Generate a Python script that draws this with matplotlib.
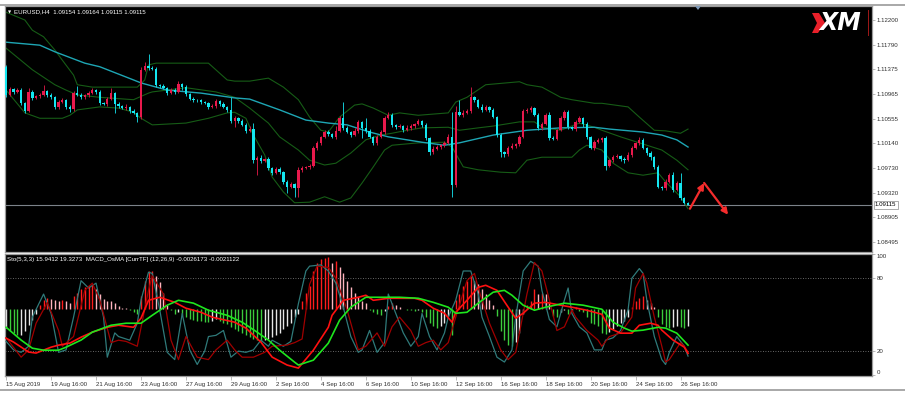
import matplotlib
matplotlib.use("Agg")
import matplotlib.pyplot as plt
import numpy as np
from matplotlib.patches import Polygon
from matplotlib.lines import Line2D
from matplotlib.transforms import Affine2D, blended_transform_factory

# ---- EURUSD H4 candles (bar index 0 = first visible bar) ----
first_open = 1.1142
closes = [
    1.1095, 1.1105, 1.1100, 1.1103, 1.1081, 1.1068, 1.1100, 1.1090, 1.1093, 1.1095,
    1.1102, 1.1095, 1.1091, 1.1075, 1.1083, 1.1087, 1.1075, 1.1071, 1.1098, 1.1095,
    1.1091, 1.1095, 1.1098, 1.1103, 1.1100, 1.1081, 1.1080, 1.1088, 1.1098, 1.1080,
    1.1076, 1.1073, 1.1075, 1.1068, 1.1065, 1.1058, 1.1137, 1.1143, 1.1140, 1.1138,
    1.1112, 1.1110, 1.1107, 1.1098, 1.1103, 1.1100, 1.1113, 1.1108, 1.1097, 1.1088,
    1.1087, 1.1086, 1.1083, 1.1081, 1.1075, 1.1076, 1.1085, 1.1080, 1.1075, 1.1070,
    1.1051, 1.1056, 1.1051, 1.1045, 1.1035, 1.1038, 1.0986, 1.0990, 1.0985, 1.0988,
    1.0973, 1.0965, 1.0971, 1.0966, 1.0950, 1.0941, 1.0946, 1.0940, 1.0970, 1.0973,
    1.0975, 1.0976, 1.1006, 1.1015, 1.1025, 1.1033, 1.1030, 1.1025, 1.1035, 1.1056,
    1.1040, 1.1033, 1.1028, 1.1035, 1.1050, 1.1040, 1.1035, 1.1025, 1.1015, 1.1025,
    1.1033, 1.1056, 1.1061, 1.1045, 1.1041, 1.1043, 1.1036, 1.1040, 1.1043, 1.1046,
    1.1051, 1.1045, 1.1023, 1.1000, 1.1005, 1.1008, 1.1011, 1.1015, 1.1025, 1.0945,
    1.1066, 1.1061, 1.1065, 1.1068, 1.1091, 1.1087, 1.1075, 1.1070, 1.1075, 1.1070,
    1.1058, 1.1028, 1.1000, 1.0996, 1.1006, 1.1010, 1.1013, 1.1025, 1.1068, 1.1070,
    1.1073, 1.1061, 1.1040, 1.1046, 1.1061, 1.1023, 1.1022, 1.1036, 1.1056, 1.1066,
    1.1041, 1.1038, 1.1050, 1.1056, 1.1046, 1.1025, 1.1006, 1.1016, 1.1020, 1.1023,
    1.0976, 1.0986, 1.0991, 1.0993, 1.0988, 1.0986, 1.0995, 1.1006, 1.1015, 1.1020,
    1.1006, 1.0998, 1.0991, 1.0975, 1.0941, 1.0940, 1.0950, 1.0961, 1.0936, 1.0948,
    1.0923, 1.09154, 1.09115,
]
# wick lengths above / below the body, in pips
wick_up = [
    3, 4, 2, 3, 3, 2, 7, 3, 2, 3,
    10, 2, 3, 2, 4, 3, 2, 3, 3, 12,
    3, 2, 4, 3, 2, 3, 2, 4, 8, 2,
    3, 2, 4, 2, 3, 2, 4, 7, 20, 3,
    4, 2, 3, 2, 4, 3, 5, 2, 3, 2,
    3, 2, 3, 2, 3, 4, 3, 2, 3, 2,
    22, 3, 2, 4, 3, 5, 10, 3, 4, 2,
    3, 2, 4, 3, 2, 3, 3, 2, 4, 3,
    2, 3, 4, 3, 2, 4, 3, 2, 8, 4,
    27, 3, 2, 4, 3, 2, 17, 3, 2, 3,
    3, 4, 5, 3, 2, 3, 2, 4, 3, 2,
    3, 2, 3, 2, 4, 3, 2, 3, 4, 42,
    10, 20, 4, 3, 17, 3, 2, 4, 3, 2,
    3, 2, 3, 2, 3, 4, 2, 3, 4, 3,
    4, 2, 3, 3, 4, 5, 3, 2, 3, 4,
    3, 2, 3, 4, 2, 3, 2, 4, 3, 2,
    3, 2, 4, 3, 2, 3, 4, 3, 2, 4,
    3, 2, 3, 2, 3, 2, 4, 3, 5, 3,
    17, 2, 1,
]
wick_dn = [
    3, 2, 3, 2, 3, 3, 2, 3, 2, 3,
    2, 3, 2, 4, 3, 2, 3, 5, 3, 2,
    3, 2, 3, 2, 4, 3, 2, 3, 2, 15,
    3, 2, 4, 3, 2, 8, 3, 2, 3, 2,
    3, 4, 2, 3, 2, 3, 2, 4, 3, 2,
    3, 2, 3, 2, 4, 2, 3, 3, 2, 4,
    3, 10, 3, 2, 3, 2, 4, 25, 3, 2,
    3, 4, 2, 3, 3, 10, 2, 15, 15, 3,
    2, 3, 2, 3, 4, 2, 3, 2, 3, 2,
    3, 2, 3, 2, 4, 17, 3, 2, 4, 3,
    2, 3, 2, 4, 3, 2, 3, 2, 3, 4,
    2, 3, 3, 5, 3, 2, 4, 3, 2, 20,
    3, 2, 3, 2, 3, 4, 2, 3, 2, 3,
    2, 3, 8, 5, 3, 2, 3, 4, 2, 3,
    3, 2, 4, 3, 2, 3, 2, 3, 2, 3,
    3, 2, 3, 2, 4, 3, 2, 3, 2, 4,
    7, 2, 3, 2, 3, 4, 2, 3, 2, 3,
    2, 3, 4, 3, 2, 4, 3, 2, 3, 2,
    3, 2, 0,
]

# Bollinger bands (20) and slow MA at these bars
bu_idx = [0, 5, 7, 10, 13, 15, 18, 19, 23, 35, 37, 38, 40, 54, 59, 61, 65, 70, 74, 78, 81, 84, 86, 89, 93,
          95, 98, 102, 105, 110, 118, 120, 123, 128, 137, 139, 143, 148, 151, 157, 159, 166, 169, 173, 176, 180, 182]
bu_val = [1.1233, 1.1220, 1.1203, 1.1192, 1.1170, 1.1153, 1.1128, 1.1112, 1.1108, 1.1108, 1.1120, 1.1145,
          1.1148, 1.1148, 1.1120, 1.1118, 1.1118, 1.1123, 1.1108, 1.1087, 1.1058, 1.1036, 1.1033, 1.1058,
          1.1078, 1.1080, 1.1073, 1.1061, 1.1065, 1.1061, 1.1065, 1.1083, 1.1091, 1.1112, 1.1117, 1.1112,
          1.1108, 1.1091, 1.1087, 1.1081, 1.1081, 1.1075, 1.1058, 1.1036, 1.1035, 1.1031, 1.1038]
bm_idx = [0, 7, 13, 16, 19, 25, 34, 38, 39, 48, 56, 61, 65, 70, 73, 78, 81, 85, 88, 92, 96, 100, 103, 107,
          111, 118, 121, 126, 130, 137, 141, 143, 148, 153, 157, 159, 164, 169, 175, 179, 182]
bm_val = [1.1173, 1.1137, 1.1112, 1.1103, 1.1095, 1.1091, 1.1087, 1.1098, 1.1100, 1.1107, 1.1100, 1.1091,
          1.1073, 1.1048, 1.1025, 1.1003, 1.0986, 1.0978, 1.0981, 1.0998, 1.1020, 1.1028, 1.1031, 1.1036,
          1.1040, 1.1041, 1.1036, 1.1040, 1.1043, 1.1050, 1.1050, 1.1041, 1.1036, 1.1048, 1.1041, 1.1036,
          1.1025, 1.1015, 1.1003, 1.0986, 1.0970]
bl_idx = [0, 5, 9, 15, 17, 19, 25, 30, 34, 36, 39, 48, 54, 59, 61, 64, 66, 69, 71, 74, 77, 81, 85, 89, 92,
          95, 98, 101, 103, 110, 117, 119, 122, 126, 132, 136, 139, 143, 151, 153, 155, 159, 162, 166, 170,
          174, 176, 180, 182]
bl_val = [1.1103, 1.1065, 1.1056, 1.1056, 1.1061, 1.1070, 1.1075, 1.1073, 1.1066, 1.1056, 1.1045, 1.1048,
          1.1056, 1.1065, 1.1066, 1.1056, 1.1028, 1.0995, 1.0958, 1.0933, 1.0915, 1.0916, 1.0925, 1.0916,
          1.0923, 1.0948, 1.0975, 1.1003, 1.1011, 1.1015, 1.1016, 1.1008, 1.0975, 1.0970, 1.0966, 1.0965,
          1.0986, 1.0991, 1.0991, 1.1003, 1.1011, 1.1003, 1.0981, 1.0965, 1.0961, 1.0965, 1.0950, 1.0925, 1.0905]
ma_idx = [0, 9, 13, 21, 25, 34, 36, 43, 52, 61, 65, 73, 80, 86, 91, 97, 102, 111, 117, 121, 130, 139, 148,
          157, 161, 170, 175, 179, 182]
ma_val = [1.1183, 1.1178, 1.1167, 1.1148, 1.1142, 1.1120, 1.1115, 1.1103, 1.1098, 1.1090, 1.1088, 1.1070,
          1.1053, 1.1048, 1.1045, 1.1033, 1.1025, 1.1016, 1.1011, 1.1015, 1.1028, 1.1036, 1.1040, 1.1041,
          1.1038, 1.1033, 1.1028, 1.1020, 1.1008]

# hand drawn forecast arrows (bar, price)
arrow_idx = [182.5, 186.3, 192.7]
arrow_px = [1.0905, 1.0948, 1.0895]

price_ticks = [1.12200, 1.11790, 1.11375, 1.10965, 1.10555, 1.10140, 1.09730, 1.09320, 1.08905, 1.08495]
last_price = 1.09115

# ---- lower window: MACD_OsMA (x1e-4) and Stochastic(5,3,3) ----
osma = [
    -5.5, -6.6, -7.1, -7.6, -7.6, -6.6, -4.7, -3.1, -1.3, 1.3,
    2.8, 3.3, 3.1, 2.6, 2.3, 2.8, 2.3, 1.8, 3.8, 4.9,
    5.9, 6.7, 7.2, 7.6, 5.9, 4.4, 3.0, 2.5, 2.3, 1.8,
    1.0, 0.5, 0.3, -0.3, -0.8, -1.3, 3.8, 8.4, 11.2, 11.4,
    10.0, 8.0, 4.9, 1.3, -0.3, -1.3, -0.8, -1.6, -2.4, -2.9,
    -3.2, -3.4, -3.5, -3.7, -3.8, -3.4, -2.9, -3.4, -4.0, -4.5,
    -5.3, -6.0, -6.6, -7.1, -7.6, -8.1, -8.7, -9.2, -9.5, -9.2,
    -8.8, -8.1, -7.6, -7.1, -6.0, -5.0, -4.0, -2.4, -1.3, 2.3,
    4.9, 7.0, 11.2, 13.8, 14.8, 15.3, 15.5, 13.8, 14.4, 12.5,
    10.6, 8.4, 6.5, 4.9, 3.7, 2.3, 1.8, -0.3, -0.8, -1.3,
    -1.6, -0.6, 0.9, 1.8, 1.3, 0.7, 0.2, -0.1, -0.2, -0.5,
    -0.3, -0.8, -2.4, -4.0, -5.0, -5.5, -5.0, -4.0, -1.9, -7.6,
    2.8, 4.4, 7.0, 8.5, 10.1, 8.4, 7.5, 5.9, 4.4, 2.8,
    1.3, -1.9, -6.6, -9.2, -10.7, -10.8, -9.7, -7.1, -1.3, 1.3,
    2.3, 5.9, 4.4, 4.9, 4.4, 1.8, -1.9, -2.2, -0.8, -0.1,
    -1.3, -0.3, 0.7, -0.5, -0.8, -2.4, -4.0, -4.5, -5.0, -7.1,
    -7.2, -6.8, -6.0, -5.0, -4.0, -3.4, -2.4, 0.7, 2.3, 3.3,
    3.8, 2.8, 1.8, 0.7, -2.4, -4.5, -5.3, -5.5, -5.3, -5.0,
    -5.3, -5.5, -5.0,
]
m_idx = [0, 2, 6, 8, 12, 14, 17, 20, 23, 27, 30, 34, 36, 38, 41, 45, 48, 52, 55, 61, 64, 68, 71, 75, 78, 82,
         86, 87, 90, 94, 96, 98, 102, 105, 109, 111, 114, 117, 119, 120, 123, 126, 128, 131, 134, 136, 138,
         141, 144, 148, 151, 155, 159, 161, 164, 167, 169, 172, 174, 175, 178, 181, 182]
m_val = [-17.2, -19.5, -25.4, -26.0, -22.5, -21.3, -20.1, -16.6, -13.6, -10.7, -9.5, -10.7, -5.3, 5.3, 7.1,
         4.1, 0.6, -1.8, -4.7, -7.7, -11.2, -19.5, -28.4, -33.1, -34.9, -24.3, -10.7, -3.6, 5.3, 7.1, 8.3,
         5.3, 6.5, 6.5, 6.5, 5.3, 0.6, -2.4, -7.7, -1.8, 5.3, 13.0, 14.2, 11.2, 1.2, -5.3, -2.4, 3.6, 4.1,
         2.4, 1.2, -0.6, -3.0, -11.2, -14.2, -14.2, -9.5, -8.3, -9.5, -12.4, -18.3, -22.5, -26.2]
s_idx = [0, 4, 7, 10, 14, 16, 20, 23, 28, 32, 36, 39, 43, 46, 50, 54, 59, 63, 67, 70, 73, 77, 78, 82, 86,
         89, 92, 96, 101, 105, 110, 114, 118, 120, 123, 126, 130, 133, 135, 138, 141, 144, 149, 154, 159,
         162, 165, 167, 170, 174, 176, 179, 182]
s_val = [-10.7, -18.3, -23.1, -24.3, -24.3, -22.5, -18.3, -13.6, -9.5, -8.3, -8.3, -3.6, 2.4, 5.3, 3.6,
         -0.6, -3.6, -7.7, -13.6, -18.3, -24.3, -31.4, -33.1, -30.2, -20.1, -6.5, 1.2, 7.1, 7.1, 7.1, 6.5,
         4.1, 1.2, -2.4, -1.8, 3.6, 10.1, 11.2, 8.3, 2.4, -0.6, 1.2, 3.6, 2.4, 0.0, -7.7, -11.2, -13.0,
         -12.4, -10.7, -11.2, -14.2, -21.3]

k_idx = [0, 2, 4, 6, 7, 10, 12, 14, 16, 18, 20, 22, 24, 26, 27, 29, 30, 33, 35, 36, 38, 39, 41, 43, 45, 47,
         49, 51, 53, 54, 56, 58, 60, 62, 64, 66, 68, 70, 71, 74, 76, 78, 80, 81, 84, 86, 88, 90, 92, 94, 95,
         97, 99, 101, 102, 104, 106, 108, 110, 111, 113, 115, 117, 118, 120, 122, 124, 126, 127, 129, 131,
         133, 135, 136, 138, 140, 142, 143, 145, 147, 149, 150, 151, 153, 155, 157, 159, 160, 162, 164, 166,
         167, 169, 170, 171, 173, 175, 176, 177, 179, 181, 182]
k_val = [28, 21, 19, 24, 48, 67, 51, 19, 21, 48, 78, 72, 76, 48, 15, 35, 32, 29, 43, 62, 85, 84, 54, 19, 13,
         51, 21, 9, 20, 32, 33, 37, 15, 20, 19, 21, 29, 24, 29, 24, 28, 59, 86, 90, 91, 86, 76, 56, 32, 19,
         21, 37, 19, 27, 67, 51, 35, 24, 32, 51, 32, 21, 35, 48, 62, 86, 86, 67, 48, 32, 15, 11, 21, 48, 86,
         94, 90, 70, 46, 40, 62, 72, 51, 40, 35, 21, 21, 29, 31, 37, 54, 80, 88, 84, 62, 32, 13, 9, 19, 32,
         24, 15.9]
d_idx = [0, 4, 6, 8, 11, 14, 15, 18, 21, 23, 25, 28, 30, 32, 35, 38, 39, 42, 44, 46, 48, 51, 54, 56, 59,
         61, 63, 66, 69, 71, 75, 77, 79, 81, 83, 86, 88, 91, 94, 96, 99, 101, 103, 105, 108, 110, 112, 114,
         116, 118, 120, 123, 125, 126, 129, 132, 134, 136, 139, 141, 143, 145, 147, 149, 151, 152, 155, 158,
         159, 161, 164, 167, 168, 170, 171, 173, 175, 176, 177, 180, 181, 182]
d_val = [31, 15, 21, 43, 60, 37, 24, 32, 70, 76, 62, 27, 29, 28, 24, 70, 82, 67, 29, 13, 32, 15, 13, 21, 29,
         21, 15, 15, 19, 24, 25, 27, 30, 75, 90, 89, 80, 54, 21, 24, 35, 24, 40, 48, 37, 24, 27, 29, 21, 27,
         48, 78, 84, 72, 43, 21, 13, 19, 67, 93, 86, 62, 37, 40, 54, 48, 37, 29, 24, 32, 35, 48, 72, 84, 76,
         48, 24, 11, 13, 27, 24, 19.3]

date_idx = [0, 12, 24, 36, 48, 60, 72, 84, 96, 108, 120, 132, 144, 156, 168, 180]
date_labels = ['15 Aug 2019', '19 Aug 16:00', '21 Aug 16:00', '23 Aug 16:00', '27 Aug 16:00',
               '29 Aug 16:00', '2 Sep 16:00', '4 Sep 16:00', '6 Sep 16:00', '10 Sep 16:00',
               '12 Sep 16:00', '16 Sep 16:00', '18 Sep 16:00', '20 Sep 16:00', '24 Sep 16:00',
               '26 Sep 16:00']

# ---------------------------------------------------------------
W, H = 905, 394
FONT = ['Liberation Sans', 'DejaVu Sans']
FS = 4.4
plt.rcParams['font.family'] = FONT

fig = plt.figure(figsize=(W / 100, H / 100), dpi=100)
fig.patch.set_facecolor('white')


def px_box(x0, y0, x1, y1):
    return [x0 / W, 1 - y1 / H, (x1 - x0) / W, (y1 - y0) / H]


ax = fig.add_axes(px_box(5, 6, 872, 252))
axl = fig.add_axes(px_box(5, 254, 872, 376), sharex=ax)
for a in (ax, axl):
    a.set_facecolor('black')
    for sp in a.spines.values():
        sp.set_color('#9c9c9c')
        sp.set_linewidth(0.9)

# candles
closes = np.array(closes)
opens = np.r_[first_open, closes[:-1]]
x = np.arange(len(closes))
top = np.maximum(opens, closes)
bot = np.minimum(opens, closes)
highs = top + np.array(wick_up) * 1e-4
lows = bot - np.array(wick_dn) * 1e-4
bull = closes > opens
body_col = np.where(bull, '#e8194c', '#14e6f0')
wick_col = np.where(bull, '#c8163f', '#12c8d2')

ax.plot(bu_idx, bu_val, color='#165c16', lw=0.8, zorder=2)
ax.plot(bm_idx, bm_val, color='#165c16', lw=0.8, zorder=2)
ax.plot(bl_idx, bl_val, color='#165c16', lw=0.8, zorder=2)
ax.plot(ma_idx, ma_val, color='#1ea6b4', lw=1.0, zorder=2)
ax.vlines(x, lows, highs, colors=wick_col, lw=0.7, zorder=3)
ax.bar(x, np.maximum(top - bot, 0.00008), bottom=bot, width=0.62,
       color=body_col, linewidth=0, zorder=4)
ax.axhline(last_price, color='#7c828a', lw=0.8, zorder=1)

for k in range(len(arrow_idx) - 1):
    ax.annotate('', xy=(arrow_idx[k + 1], arrow_px[k + 1]), xytext=(arrow_idx[k], arrow_px[k]),
                arrowprops=dict(arrowstyle='-|>', color='#f42c2c', lw=1.6,
                                mutation_scale=9, shrinkA=0, shrinkB=0), zorder=6)

ax.set_xlim(-0.3, 231.1)
ax.set_ylim(1.08328, 1.12434)
ax.yaxis.tick_right()
ax.set_yticks(price_ticks)
ax.set_yticklabels([f'{p:.5f}' for p in price_ticks])
ax.tick_params(axis='y', labelsize=FS, colors='#9c9c9c', labelcolor='#303030',
               length=2, width=0.5, pad=1.5)
ax.tick_params(axis='x', bottom=False, labelbottom=False)

tr = blended_transform_factory(ax.transAxes, ax.transData)
ax.text(1.0035, last_price, f'{last_price:.5f}', transform=tr, fontsize=FS, color='black',
        va='center', ha='left',
        bbox=dict(boxstyle='square,pad=0.25', fc='white', ec='#8a8a8a', lw=0.5))

# lower window
axl.set_ylim(-0.5, 100)
# MACD values (x1e-4) are drawn on their own scale: zero sits at 54.5 on the 0-100 scale
macd_tr = Affine2D().scale(1, 1.389).translate(0, 54.5) + axl.transData
osma = np.array(osma)
prev = np.r_[osma[0], osma[:-1]]
hist_col = np.where(osma >= 0,
                    np.where(osma >= prev, '#ff1c1c', '#ffb4be'),
                    np.where(osma < prev, '#3ccc3c', '#e6e6e6'))
axl.vlines(x, 0, osma * 2, colors=hist_col, lw=1.0, transform=macd_tr, zorder=2)
axl.axhline(80, color='#8a8a8a', lw=0.6, ls=(0, (1, 2)), zorder=1)
axl.axhline(20, color='#8a8a8a', lw=0.6, ls=(0, (1, 2)), zorder=1)
axl.plot(k_idx, k_val, color='#2f7a7a', lw=0.9, zorder=3)
axl.plot(d_idx, d_val, color='#a00000', lw=0.9, zorder=3)
axl.plot(m_idx, m_val, color='#ff1010', lw=1.2, transform=macd_tr, zorder=4)
axl.plot(s_idx, s_val, color='#1ee61e', lw=1.2, transform=macd_tr, zorder=4)

axl.yaxis.tick_right()
axl.set_yticks([100, 80, 20, 0])
axl.set_yticklabels(['100', '80', '20', '0'])
axl.tick_params(axis='y', labelsize=FS, colors='#9c9c9c', labelcolor='#303030',
                length=2, width=0.5, pad=1.5)
lbls = axl.get_yticklabels()
lbls[0].set_va('top')
lbls[3].set_va('bottom')

axl.set_xticks(date_idx)
axl.set_xticklabels(date_labels)
axl.tick_params(axis='x', labelsize=FS, colors='#9c9c9c', labelcolor='#303030',
                length=3, width=0.5, pad=1.5)
for t in axl.get_xticklabels():
    t.set_ha('left')

axl.text(2 / 867, 1 - 5 / 122, 'Sto(5,3,3) 15.9412 19.3273  MACD_OsMA [CurrTF] (12,26,9) -0.0026173 -0.0021122',
         transform=axl.transAxes, fontsize=FS, color='white', va='center', ha='left')

# header
fig.text(8 / W, 1 - 12 / H, '\u25bc', fontsize=3, color='white', va='center', ha='left',
         family='DejaVu Sans')
fig.text(14 / W, 1 - 12 / H, 'EURUSD,H4  1.09154 1.09164 1.09115 1.09115', fontsize=FS,
         color='white', va='center', ha='left')
fig.patches.append(Polygon([[695 / W, 1 - 6 / H], [701 / W, 1 - 6 / H], [698 / W, 1 - 10 / H]],
                           closed=True, fc='#7f9ab8', ec='none', transform=fig.transFigure))

# XM logo
fig.patches.append(Polygon([[812 / W, 1 - 13 / H], [819 / W, 1 - 13 / H], [825 / W, 1 - 23 / H],
                            [818 / W, 1 - 33 / H], [812 / W, 1 - 33 / H], [817 / W, 1 - 23 / H]],
                           closed=True, fc='#e8202a', ec='none', transform=fig.transFigure, zorder=5))
fig.text(840 / W, 1 - 23 / H, 'XM', fontsize=17, color='white', fontweight='bold',
         fontstyle='italic', va='center', ha='center', family='DejaVu Sans', zorder=6)
fig.lines.append(Line2D([868 / W, 868 / W], [1 - 10 / H, 1 - 35 / H], color='#a01818', lw=0.7,
                        transform=fig.transFigure))

# window frame lines
fig.lines.append(Line2D([0, 1], [1 - 4.5 / H, 1 - 4.5 / H], color='#a8a8a8', lw=1.4,
                        transform=fig.transFigure))
fig.lines.append(Line2D([0, 1], [1 - 390 / H, 1 - 390 / H], color='#a8a8a8', lw=1.4,
                        transform=fig.transFigure))

fig.savefig('out.png', dpi=100, facecolor='white')
